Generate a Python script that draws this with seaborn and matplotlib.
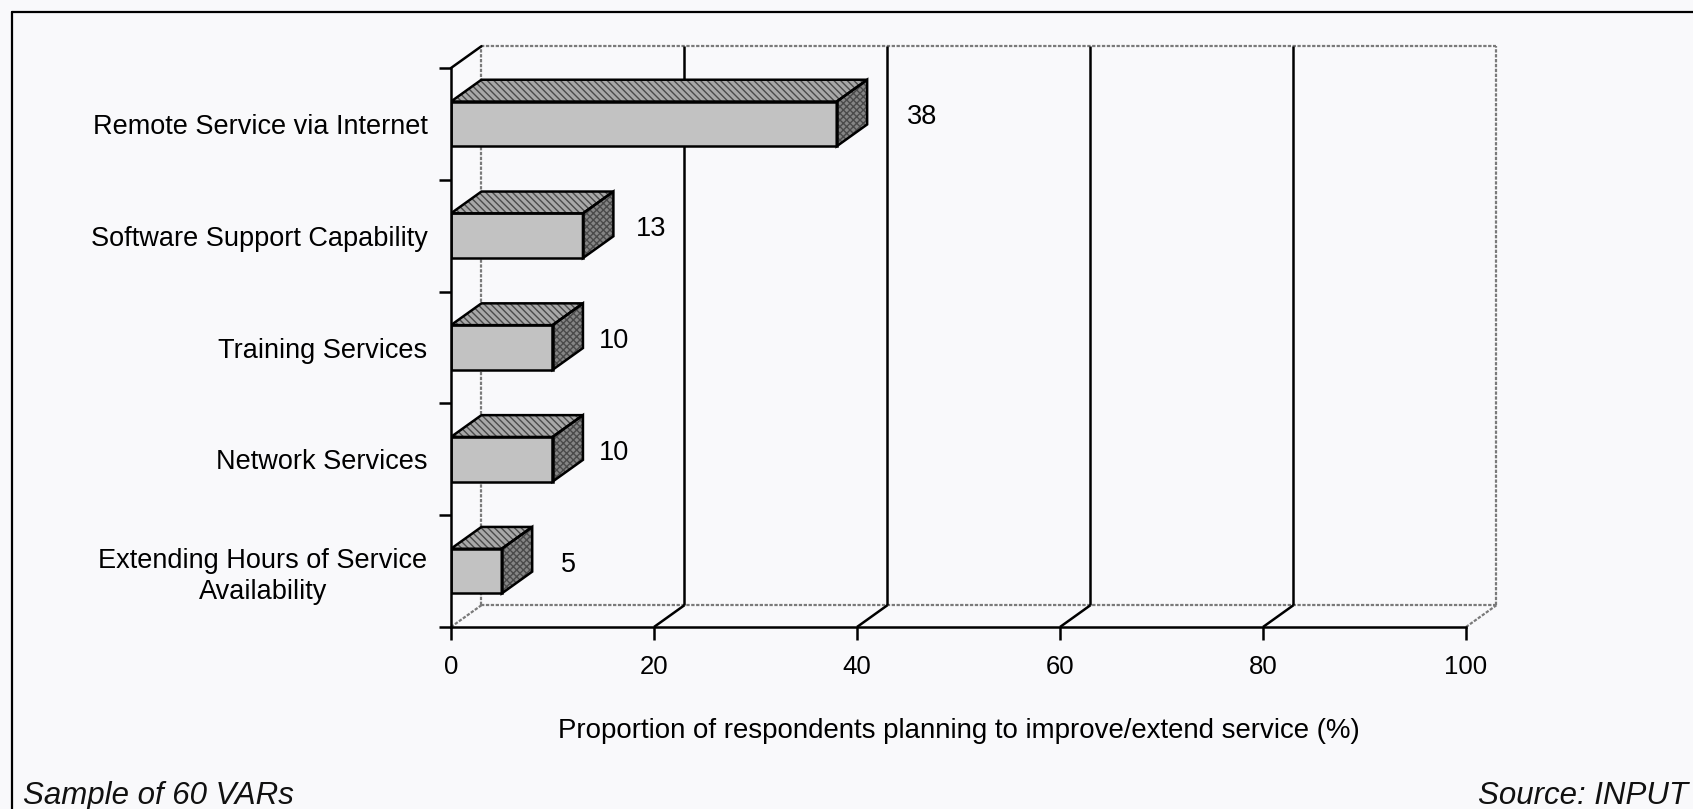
import matplotlib
matplotlib.use("Agg")
import matplotlib.pyplot as plt
from matplotlib.patches import Polygon
from matplotlib.lines import Line2D
import seaborn as sns
import pandas as pd

# Chart content
categories = [
    "Remote Service via Internet",
    "Software Support Capability",
    "Training Services",
    "Network Services",
    "Extending Hours of Service\nAvailability",
]
values = [38, 13, 10, 10, 5]
x_ticks = [0, 20, 40, 60, 80, 100]
x_label = "Proportion of respondents planning to improve/extend service (%)"
note_left = "Sample of 60 VARs"
note_right = "Source: INPUT"

# Horizontal offset of each value label from the end of its bar (data units)
label_offsets = [8.4, 6.7, 6.1, 6.1, 6.6]

sns.set_theme(style="white")
plt.rcParams["font.family"] = ["Liberation Sans", "DejaVu Sans"]

BG = "#f9f9fb"
FRONT = "#c2c2c2"
TOP = "#a8a8a8"
SIDE = "#858585"
WALL = "#7a7a7a"
DX, DY = 3.0, 0.195      # pseudo-3D depth offset (x in data units, y in category units)
LW = 1.8

df = pd.DataFrame({"category": categories, "value": values})

W, H = 1693, 809
fig = plt.figure(figsize=(W / 100, H / 100), dpi=100, facecolor=BG)
ax = fig.add_axes([451 / W, (H - 627) / H, 1015 / W, 559 / H])
ax.set_facecolor("none")

sns.barplot(data=df, x="value", y="category", orient="h", width=0.4,
            color=FRONT, saturation=1, edgecolor="black", linewidth=LW,
            ax=ax, zorder=5)

ax.set_xlim(0, 100)
ax.set_ylim(4.5, -0.5)
n = len(categories)

# Back wall outline (dotted grey)
wall_kw = dict(color=WALL, lw=1.6, ls=(0, (1.5, 0.7)), clip_on=False, zorder=1)
ax.plot([DX, DX], [n - 0.5 - DY, -0.5 - DY], **wall_kw)
ax.plot([100 + DX, 100 + DX], [n - 0.5 - DY, -0.5 - DY], **wall_kw)
ax.plot([DX, 100 + DX], [-0.5 - DY, -0.5 - DY], **wall_kw)
ax.plot([DX, 100 + DX], [n - 0.5 - DY, n - 0.5 - DY], **wall_kw)
ax.plot([0, DX], [n - 0.5, n - 0.5 - DY], **wall_kw)
ax.plot([100, 100 + DX], [n - 0.5, n - 0.5 - DY], **wall_kw)

# Floor diagonals and back-wall gridlines
for xv in x_ticks[1:-1]:
    ax.plot([xv, xv + DX], [n - 0.5, n - 0.5 - DY], color="black", lw=LW,
            clip_on=False, zorder=2, solid_capstyle="butt")
    ax.plot([xv + DX, xv + DX], [n - 0.5 - DY, -0.5 - DY], color="black",
            lw=LW, clip_on=False, zorder=2, solid_capstyle="butt")
ax.plot([0, DX], [-0.5, -0.5 - DY], color="black", lw=LW, clip_on=False, zorder=2)

# Top and side faces of each bar, plus value labels
for patch, v, off in zip(ax.patches, values, label_offsets):
    x0, y0 = patch.get_x(), patch.get_y()
    w, h = patch.get_width(), patch.get_height()
    top = [(x0, y0), (x0 + w, y0), (x0 + w + DX, y0 - DY), (x0 + DX, y0 - DY)]
    side = [(x0 + w, y0), (x0 + w + DX, y0 - DY), (x0 + w + DX, y0 + h - DY), (x0 + w, y0 + h)]
    for pts, fc, hatch in ((top, TOP, "\\\\\\\\\\"), (side, SIDE, "xxxxx")):
        ax.add_patch(Polygon(pts, closed=True, facecolor=fc, edgecolor="#4a4a4a",
                             hatch=hatch, lw=0, zorder=4))
        ax.add_patch(Polygon(pts, closed=True, fill=False, edgecolor="black",
                             lw=LW, joinstyle="miter", zorder=6))
    ax.text(x0 + w + off, y0 + h / 2 - DY * 0.3, f"{v:g}", ha="center", va="center",
            fontsize=19.5, color="black", zorder=7)

# Axes styling
for side_name in ("top", "right"):
    ax.spines[side_name].set_visible(False)
for side_name in ("left", "bottom"):
    ax.spines[side_name].set_color("black")
    ax.spines[side_name].set_linewidth(LW)
    ax.spines[side_name].set_zorder(8)

ax.set_xticks(x_ticks)
ax.set_xticklabels([str(t) for t in x_ticks])
ax.tick_params(axis="x", which="major", bottom=True, length=9.5, width=LW,
               color="black", pad=11, labelsize=18.5, labelcolor="black")
ax.set_yticks(range(n))
ax.set_yticklabels(categories)
ax.set_yticks([i - 0.5 for i in range(n + 1)], minor=True)
ax.tick_params(axis="y", which="major", left=False, length=0, pad=17,
               labelsize=19.5, labelcolor="black")
ax.tick_params(axis="y", which="minor", left=True, length=9, width=LW, color="black")
for lbl in ax.get_yticklabels():
    lbl.set_multialignment("center")
    lbl.set_linespacing(1.25)

ax.set_ylabel("")
ax.set_xlabel(x_label, fontsize=19.9, color="black", va="center")
ax.xaxis.set_label_coords(0.5, -0.186)

# Footnotes
fig.text(23 / W, 1 - 804 / H, note_left, style="italic", fontsize=22.5,
         ha="left", va="baseline", color="#111111")
fig.text(1688 / W, 1 - 804 / H, note_right, style="italic", fontsize=22.5,
         ha="right", va="baseline", color="#111111")

# Page frame (top and left edges)
fy = 1 - 12 / H
fx = 12 / W
fig.add_artist(Line2D([fx, 1], [fy, fy], color="black", lw=1.6, transform=fig.transFigure))
fig.add_artist(Line2D([fx, fx], [0, fy], color="black", lw=1.6, transform=fig.transFigure))

fig.savefig("out.png", dpi=100, facecolor=BG)
